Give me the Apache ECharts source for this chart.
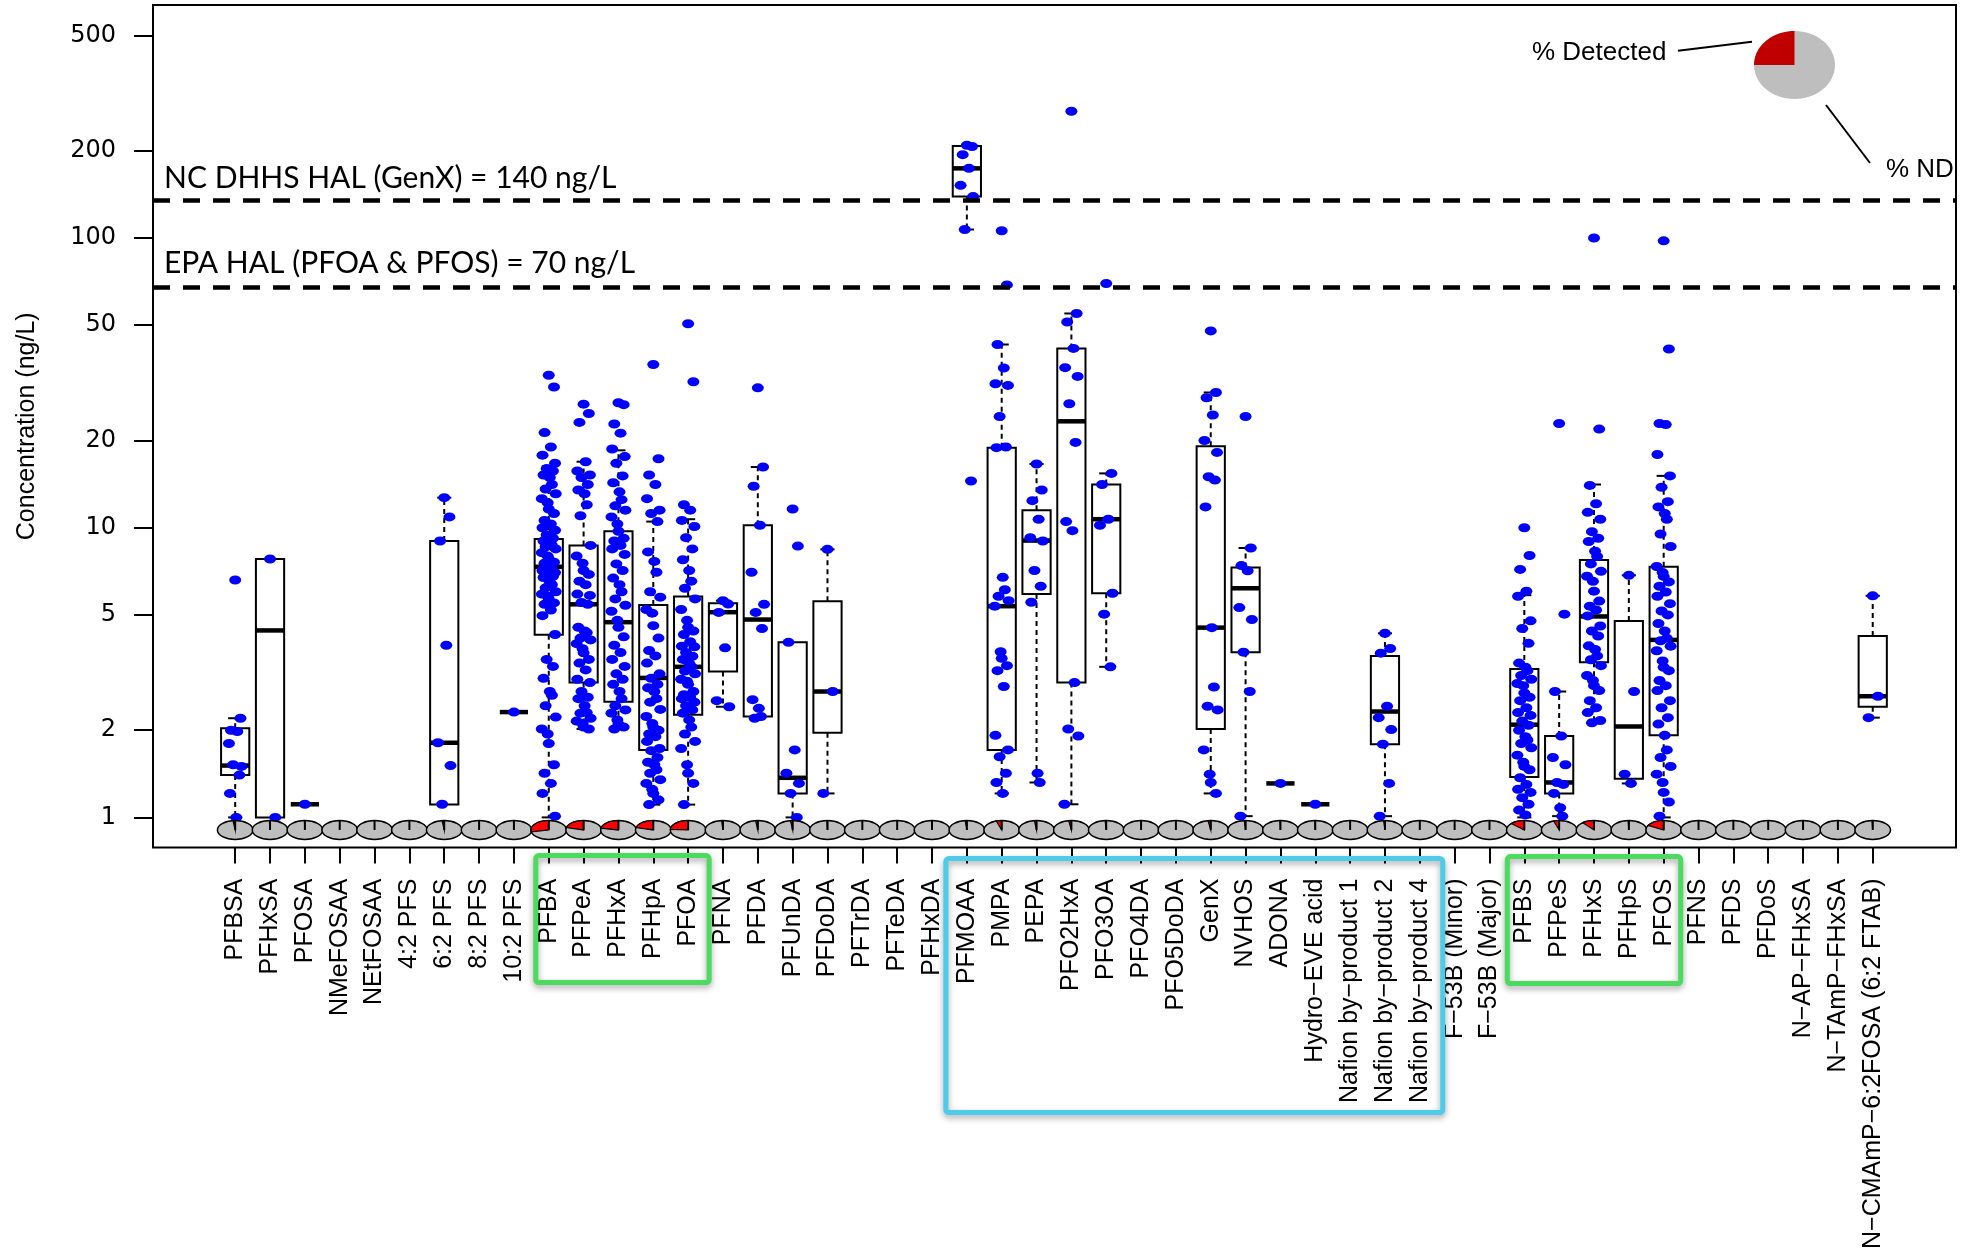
<!DOCTYPE html>
<html><head><meta charset="utf-8">
<script src="https://cdn.jsdelivr.net/npm/echarts@6/dist/echarts.min.js"></script>
<style>html,body{margin:0;padding:0;background:#fff}#c{width:1972px;height:1252px}</style>
</head><body><div id="c"></div>
<script>
// ---------------- DATA ----------------
const CATEGORIES = ['PFBSA','PFHxSA','PFOSA','NMeFOSAA','NEtFOSAA','4:2 PFS','6:2 PFS','8:2 PFS','10:2 PFS',
 'PFBA','PFPeA','PFHxA','PFHpA','PFOA','PFNA','PFDA','PFUnDA','PFDoDA','PFTrDA','PFTeDA','PFHxDA',
 'PFMOAA','PMPA','PEPA','PFO2HxA','PFO3OA','PFO4DA','PFO5DoDA','GenX','NVHOS','ADONA','Hydro\u2212EVE acid',
 'Nafion by\u2212product 1','Nafion by\u2212product 2','Nafion by\u2212product 4','F\u221253B (Minor)','F\u221253B (Major)',
 'PFBS','PFPeS','PFHxS','PFHpS','PFOS','PFNS','PFDS','PFDoS','N\u2212AP\u2212FHxSA','N\u2212TAmP\u2212FHxSA','N\u2212CMAmP\u22126:2FOSA (6:2 FTAB)'];

// box statistics (ng/L), null = no detections
const Q1  = [1.40,1.0,1.11,null,null,null,1.107,null,2.31, 4.27,2.92,2.51,1.71,2.26,3.19,2.23,1.21,1.96,null,null,null,
 139,1.71,5.9,2.92,5.94,null,null,2.02,3.72,1.31,1.11, null,1.79,null,null,null, 1.38,1.21,3.43,1.36,1.92,null,null,null,null,null,2.41];
const MED = [1.51,4.42,1.11,null,null,null,1.81,null,2.31, 7.33,5.44,4.72,3.03,3.31,5.11,4.82,1.37,2.72,null,null,null,
 174,5.36,9.03,23.3,10.7,null,null,4.52,6.18,1.31,1.11, null,2.32,null,null,null, 2.09,1.32,4.94,2.06,4.1,null,null,null,null,null,2.62];
const Q3  = [2.03,7.8,1.11,null,null,null,9.0,null,2.31, 9.14,8.69,9.72,5.41,5.79,5.49,10.2,4.02,5.57,null,null,null,
 208,18.9,11.5,41.6,14.1,null,null,19.1,7.29,1.31,1.11, null,3.61,null,null,null, 3.25,1.91,7.74,4.76,7.33,null,null,null,null,null,4.23];
const WLO = [1.0,1.0,1.11,null,null,null,1.107,null,2.31, 1.0,2.02,2.02,1.107,1.107,2.41,2.23,1.0,1.21,null,null,null,
 107,1.21,1.32,1.11,3.31,null,null,1.21,1.01,1.31,1.11, null,1.01,null,null,null, 1.0,1.01,2.12,1.31,1.0,null,null,null,null,null,2.21];
const WHI = [2.2,7.8,1.11,null,null,null,12.7,null,2.31, 16.3,16.9,18.5,10.5,10.7,5.6,16.2,4.02,8.42,null,null,null,
 208,42.9,16.6,54.9,15.4,null,null,29.3,8.51,1.31,1.11, null,4.32,null,null,null, 5.85,2.72,14.1,6.85,15.1,null,null,null,null,null,5.82];

// fraction of samples detected (red slice of each pie)
const DETECTED = [0.02,0.006,0.004,0,0,0,0.02,0,0.004, 0.28,0.21,0.22,0.21,0.24,0.012,0.02,0.02,0.006,0,0,0,
 0.015,0.05,0.02,0.025,0.01,0,0,0.025,0.012,0.004,0.004, 0,0.012,0,0,0, 0.13,0.05,0.11,0.006,0.17,0,0,0,0,0,0.006];

// individual detected concentrations (ng/L)
const PTS_PFBSA = [6.6,2.2,2.0,1.98,1.8,1.5,1.52,1.4,1.21,1.0];
const PTS_PFHXSA = [7.8,1.0];
const PTS_PFOSA = [1.11];
const PTS_62PFS = [12.7,10.9,9.0,3.93,1.81,1.51,1.11];
const PTS_102PFS = [2.31];
const PTS_PFBA = [33.6,30.6,21.3,19.0,17.8,16.7,16.0,15.7,15.2,14.9,14.1,13.6,13.1,12.6,12.2,11.6,11.2,10.6,10.3,10.0,9.8,9.46,9.2,9.0,8.94,8.7,8.6,8.45,8.2,7.98,7.8,7.6,7.54,7.3,7.12,7.0,6.9,6.8,6.73,6.5,6.36,6.2,6.01,5.9,5.8,5.68,5.5,5.44,5.2,4.97,4.28,3.51,3.32,3.02,2.72,2.64,2.43,2.22,2.02,1.94,1.80,1.52,1.42,1.31,1.21,1.01];
const PTS_PFPEA = [26.7,24.8,23.1,16.9,15.7,15.2,14.9,14.1,13.5,13.1,12.0,11.0,8.69,7.98,7.54,7.12,6.9,6.54,6.36,5.9,5.84,5.52,5.44,4.53,4.4,4.34,4.16,4.1,3.98,3.82,3.7,3.51,3.41,3.23,3.0,2.92,2.72,2.6,2.57,2.43,2.3,2.29,2.20,2.15,2.11,2.05,2.02];
const PTS_PFHXA = [27.0,26.6,22.8,21.2,18.7,17.6,16.7,15.1,14.3,13.3,12.5,11.9,11.5,10.9,10.3,9.72,9.19,9.0,8.69,8.45,8.09,7.5,7.12,6.7,6.36,6.01,5.68,5.4,5.15,4.79,4.53,4.2,3.93,3.71,3.51,3.32,3.13,3.0,2.88,2.72,2.57,2.43,2.35,2.29,2.17,2.1,2.05,2.02];
const PTS_PFHPA = [36.6,17.3,15.2,14.1,12.6,11.5,11.2,10.5,8.25,7.65,7.02,6.01,5.76,5.22,5.07,4.59,4.16,3.77,3.61,3.41,3.13,3.02,2.88,2.8,2.72,2.57,2.5,2.36,2.23,2.11,2.05,2.0,1.94,1.9,1.83,1.73,1.7,1.61,1.55,1.52,1.46,1.42,1.35,1.31,1.25,1.21,1.15,1.107];
const PTS_PFOA = [50.6,31.9,12.0,11.5,10.6,10.1,9.24,8.45,7.75,7.12,6.54,6.18,5.68,5.22,4.79,4.53,4.4,4.28,4.04,3.9,3.88,3.71,3.6,3.51,3.4,3.32,3.2,3.13,3.0,2.95,2.88,2.72,2.65,2.6,2.57,2.5,2.43,2.35,2.29,2.17,2.05,1.94,1.83,1.73,1.52,1.42,1.31,1.107];
const PTS_PFNA = [5.6,5.45,5.1,3.85,2.53,2.41];
const PTS_PFDA = [30.4,16.2,13.9,10.2,7.02,5.44,5.1,4.49,2.55,2.38,2.23,2.2];
const PTS_PFUNDA = [11.6,8.64,4.02,1.71,1.42,1.31,1.21,1.0];
const PTS_PFDODA = [8.42,2.72,1.21];
const PTS_PFMOAA = [209,207,194,174,152,139,107,14.5];
const PTS_PMPA = [106,68.9,42.9,35.6,31.4,31.0,24.2,19.0,18.9,6.74,6.11,5.8,5.6,5.36,3.73,3.54,3.34,3.21,2.83,1.92,1.71,1.62,1.42,1.32,1.21];
const PTS_PEPA = [16.6,13.5,12.4,10.7,9.24,9.0,7.12,6.28,5.53,1.42,1.32];
const PTS_PFO2HXA = [274,54.9,51.3,41.6,35.7,33.3,26.8,19.7,10.5,9.77,2.92,2.02,1.91,1.11];
const PTS_PFO3OA = [69.7,15.4,14.1,10.7,10.2,5.94,5.03,3.31];
const PTS_GENX = [47.8,29.3,28.1,24.5,20.0,18.2,15.0,14.6,11.8,4.52,2.82,2.42,2.35,1.71,1.41,1.32,1.21];
const PTS_NVHOS = [24.2,8.51,7.4,7.1,5.3,4.82,3.72,2.72,1.01];
const PTS_ADONA = [1.31];
const PTS_HYDROEVE = [1.11];
const PTS_NAFION2 = [4.32,3.83,3.69,2.42,2.21,2.01,1.79,1.31,1.01];
const PTS_PFBS = [10.0,8.02,7.18,6.04,5.80,4.77,4.49,3.99,3.41,3.3,3.21,3.09,3.0,2.9,2.85,2.69,2.6,2.53,2.39,2.3,2.25,2.15,2.08,2.0,1.9,1.85,1.8,1.74,1.64,1.55,1.5,1.46,1.37,1.30,1.25,1.22,1.17,1.11,1.06,1.02];
const PTS_PFPES = [22.9,5.03,2.72,1.91,1.61,1.52,1.32,1.30,1.21,1.08,1.01];
const PTS_PFHXS = [100,21.9,14.0,12.1,11.3,10.7,9.69,9.2,8.96,8.3,7.96,7.50,7.07,6.8,6.53,6.04,5.58,5.36,5.2,4.96,4.58,4.4,4.23,3.91,3.8,3.61,3.5,3.34,3.09,2.97,2.85,2.74,2.53,2.39,2.3,2.16,2.12];
const PTS_PFHPS = [6.85,2.72,1.41,1.31];
const PTS_PFOS = [97.8,41.4,22.9,22.7,17.9,15.1,13.8,12.3,11.8,11.2,10.7,9.51,8.61,7.35,7.0,6.79,6.5,6.28,6.0,5.80,5.47,5.16,5.0,4.67,4.4,4.15,4.07,3.9,3.76,3.47,3.3,3.21,2.97,2.85,2.74,2.53,2.39,2.21,2.1,1.92,1.71,1.61,1.5,1.41,1.32,1.22,1.13,1.01];
const PTS_FTAB = [5.82,2.62,2.21];

const POINTS_BY_CATEGORY = [
 [0,PTS_PFBSA],[1,PTS_PFHXSA],[2,PTS_PFOSA],[6,PTS_62PFS],[8,PTS_102PFS],[9,PTS_PFBA],[10,PTS_PFPEA],
 [11,PTS_PFHXA],[12,PTS_PFHPA],[13,PTS_PFOA],[14,PTS_PFNA],[15,PTS_PFDA],[16,PTS_PFUNDA],[17,PTS_PFDODA],
 [21,PTS_PFMOAA],[22,PTS_PMPA],[23,PTS_PEPA],[24,PTS_PFO2HXA],[25,PTS_PFO3OA],[28,PTS_GENX],[29,PTS_NVHOS],
 [30,PTS_ADONA],[31,PTS_HYDROEVE],[33,PTS_NAFION2],[37,PTS_PFBS],[38,PTS_PFPES],[39,PTS_PFHXS],[40,PTS_PFHPS],
 [41,PTS_PFOS],[47,PTS_FTAB]];

const Y_TICKS = [1,2,5,10,20,50,100,200,500];
const HAL_VALUES = [134, 68];
const HAL_LABELS = ['NC DHHS HAL (GenX) = 140 ng/L', 'EPA HAL (PFOA & PFOS) = 70 ng/L'];
const Y_TITLE = 'Concentration (ng/L)';
const LEGEND_TEXT = ['% Detected', '% ND'];
const HIGHLIGHT_GROUPS = [[9,13],[21,34],[37,41]];

// ---------------- LAYOUT / STYLE ----------------
const X_MIN = -2.359, X_MAX = 49.39;
const Y_MIN = 0.787, Y_MAX = 637.5;
const PIE_ROW = 0.905;
const JITTER = [0,0.15,-0.12,0.06,-0.18,0.18,-0.06,0.12,-0.15,0.03,0.09,-0.09,0.2,-0.2,-0.03];
const lg = Math.log10;

const boxData = [];
CATEGORIES.forEach((c, i) => {
  if (MED[i] == null) return;
  boxData.push([i, lg(Q1[i]), lg(MED[i]), lg(Q3[i]), lg(WLO[i]), lg(WHI[i])]);
});
const pointData = [];
POINTS_BY_CATEGORY.forEach(([i, arr]) => {
  arr.forEach((v, k) => pointData.push([i + JITTER[k % JITTER.length], lg(v)]));
});
const pieData = CATEGORIES.map((c, i) => [i, DETECTED[i]]);

function renderBox(params, api) {
  const i = api.value(0);
  const bw = api.size([1, 0])[0] * 0.81;
  const x = api.coord([i, api.value(2)])[0];
  const ym = api.coord([i, api.value(2)])[1];
  const y1 = api.coord([i, api.value(1)])[1];
  const y3 = api.coord([i, api.value(3)])[1];
  const ylo = api.coord([i, api.value(4)])[1];
  const yhi = api.coord([i, api.value(5)])[1];
  const ch = [];
  const dash = {stroke: '#000', lineWidth: 2, lineDash: [5, 4], fill: null};
  const solid = {stroke: '#000', lineWidth: 2, fill: null};
  if (yhi < y3 - 0.5) {
    ch.push({type: 'line', shape: {x1: x, y1: y3, x2: x, y2: yhi}, style: dash});
    ch.push({type: 'line', shape: {x1: x - bw / 4, y1: yhi, x2: x + bw / 4, y2: yhi}, style: solid});
  }
  if (ylo > y1 + 0.5) {
    ch.push({type: 'line', shape: {x1: x, y1: y1, x2: x, y2: ylo}, style: dash});
    ch.push({type: 'line', shape: {x1: x - bw / 4, y1: ylo, x2: x + bw / 4, y2: ylo}, style: solid});
  }
  if (y1 - y3 > 0.5) {
    ch.push({type: 'rect', shape: {x: x - bw / 2, y: y3, width: bw, height: y1 - y3}, style: {fill: '#fff', stroke: '#000', lineWidth: 2}});
  }
  ch.push({type: 'line', shape: {x1: x - bw / 2, y1: ym, x2: x + bw / 2, y2: ym}, style: {stroke: '#000', lineWidth: 4.5}});
  return {type: 'group', children: ch};
}

function renderPie(params, api) {
  const i = api.value(0), p = api.value(1);
  const c = api.coord([i, lg(PIE_ROW)]);
  const rx = api.size([1, 0])[0] * 0.51, ry = rx * 0.53;
  const ch = [{type: 'ellipse', shape: {cx: c[0], cy: c[1], rx: rx, ry: ry}, style: {fill: '#BEBEBE', stroke: '#000', lineWidth: 1.5}}];
  if (p > 0) {
    const pts = [[c[0], c[1]]];
    const n = Math.max(3, Math.ceil(p * 80));
    for (let k = 0; k <= n; k++) {
      const t = 2 * Math.PI * p * k / n;
      pts.push([c[0] - rx * Math.sin(t), c[1] - ry * Math.cos(t)]);
    }
    ch.push({type: 'polygon', shape: {points: pts}, style: {fill: '#FF0000', stroke: '#000', lineWidth: 1.2}});
  }
  ch.push({type: 'line', shape: {x1: c[0], y1: c[1], x2: c[0], y2: c[1] - ry}, style: {stroke: '#000', lineWidth: 2}});
  return {type: 'group', children: ch};
}

const FONT_R = 'Liberation Sans';
const option = {
  animation: false,
  backgroundColor: '#fff',
  grid: {left: 153, right: 16, top: 5, bottom: 403, show: true, borderColor: '#000', borderWidth: 2, backgroundColor: 'transparent'},
  xAxis: {
    type: 'value', min: X_MIN, max: X_MAX,
    axisLine: {show: false, onZero: false},
    splitLine: {show: false},
    axisTick: {show: true, customValues: CATEGORIES.map((c, i) => i), length: 16, lineStyle: {color: '#000', width: 2}},
    axisLabel: {customValues: CATEGORIES.map((c, i) => i), formatter: v => CATEGORIES[Math.round(v)] || '',
      rotate: 90, margin: 31, fontSize: 25, fontFamily: FONT_R, color: '#000'}
  },
  yAxis: {
    type: 'value', min: lg(Y_MIN), max: lg(Y_MAX),
    name: Y_TITLE, nameLocation: 'middle', nameGap: 113,
    nameTextStyle: {fontSize: 25, fontFamily: FONT_R, color: '#000'},
    axisLine: {show: false, onZero: false},
    splitLine: {show: false},
    axisTick: {show: true, customValues: Y_TICKS.map(lg), length: 19, lineStyle: {color: '#000', width: 2}},
    axisLabel: {customValues: Y_TICKS.map(lg), formatter: v => String(Math.round(Math.pow(10, v))),
      margin: 37, fontSize: 24, fontFamily: 'DejaVu Sans', color: '#000'}
  },
  series: [
    {type: 'custom', name: 'box', renderItem: renderBox, data: boxData, z: 2, silent: true,
     encode: {x: 0, y: [1, 2, 3, 4, 5]}},
    {type: 'scatter', name: 'points', data: pointData, symbol: 'circle', symbolSize: [12, 9], z: 3, silent: true,
     itemStyle: {color: '#0000FF', opacity: 1},
     markLine: {
       silent: true, symbol: ['none', 'none'], animation: false,
       lineStyle: {color: '#000', width: 4.5, type: [17, 13]},
       data: HAL_VALUES.map((v, k) => ({
         yAxis: lg(v),
         label: {show: true, position: 'insideStartTop', formatter: HAL_LABELS[k], distance: [11, k === 0 ? 7 : 9],
           fontFamily: 'Lato', fontSize: 30, color: '#000'}
       }))
     }},
    {type: 'custom', name: 'pies', renderItem: renderPie, data: pieData, z: 4, silent: true,
     encode: {x: 0}}
  ]
};

const chart = echarts.init(document.getElementById('c'), null, {renderer: 'canvas'});
chart.setOption(option);

// annotations: highlight frames around label groups + detection legend pie
const px = v => chart.convertToPixel({xAxisIndex: 0}, v);
const axisBottom = chart.convertToPixel({yAxisIndex: 0}, lg(Y_MIN));
const FRAME_STYLE = [
  {color: '#4CDB5E', l: -13, r: 21, t: 8, b: 135},
  {color: '#4FCBEA', l: -21, r: 23, t: 11, b: 265},
  {color: '#4CDB5E', l: -17, r: 17, t: 9, b: 136}
];
const graphics = HIGHLIGHT_GROUPS.map(([a, b], k) => {
  const s = FRAME_STYLE[k];
  const x1 = px(a) + s.l, x2 = px(b) + s.r;
  return {type: 'rect', z: 100, silent: true,
    shape: {x: x1, y: axisBottom + s.t, width: x2 - x1, height: s.b - s.t, r: 3},
    style: {fill: null, stroke: s.color, lineWidth: 5, shadowBlur: 6, shadowColor: 'rgba(0,0,0,0.35)', shadowOffsetY: 3}};
});
// legend pie
const LC = [1794.5, 65], LRX = 40.5, LRY = 34;
const qpts = [[LC[0], LC[1]]];
for (let k = 0; k <= 20; k++) { const t = Math.PI / 2 * k / 20; qpts.push([LC[0] - LRX * Math.sin(t), LC[1] - LRY * Math.cos(t)]); }
graphics.push(
  {type: 'ellipse', z: 100, silent: true, shape: {cx: LC[0], cy: LC[1], rx: LRX, ry: LRY}, style: {fill: '#BEBEBE'}},
  {type: 'polygon', z: 101, silent: true, shape: {points: qpts}, style: {fill: '#C00000'}},
  {type: 'line', z: 100, silent: true, shape: {x1: 1678, y1: 50.7, x2: 1752, y2: 41.7}, style: {stroke: '#000', lineWidth: 2}},
  {type: 'line', z: 100, silent: true, shape: {x1: 1826, y1: 105, x2: 1870, y2: 163}, style: {stroke: '#000', lineWidth: 2}},
  {type: 'text', z: 100, silent: true, style: {text: LEGEND_TEXT[0], x: 1532, y: 53, verticalAlign: 'middle', align: 'left', font: '26px "Liberation Sans"', fill: '#000'}},
  {type: 'text', z: 100, silent: true, style: {text: LEGEND_TEXT[1], x: 1886, y: 170, verticalAlign: 'middle', align: 'left', font: '26px "Liberation Sans"', fill: '#000'}}
);
chart.setOption({graphic: graphics});
</script>
</body></html>
